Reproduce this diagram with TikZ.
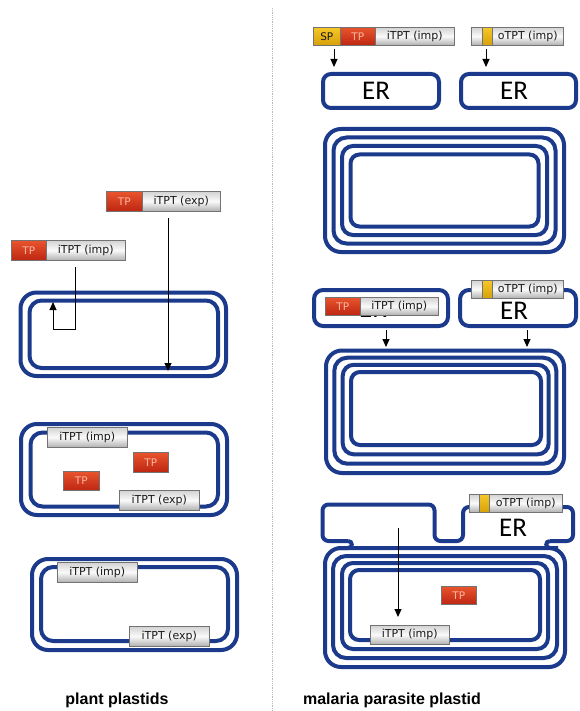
\documentclass[tikz,border=0pt]{standalone}
\usepackage{fontspec}
\setmainfont{Liberation Sans}
\newfontfamily\lblfont{DejaVu Sans}
\newfontfamily\erfont{Carlito}
\usetikzlibrary{arrows.meta}
\definecolor{memb}{RGB}{28,58,140}
\definecolor{redtop}{RGB}{232,85,45}
\definecolor{redbot}{RGB}{190,38,18}
\definecolor{tptext}{RGB}{250,180,160}
\definecolor{yeltop}{RGB}{245,200,40}
\definecolor{yelbot}{RGB}{215,160,10}
\begin{document}
\begin{tikzpicture}[x=1pt,y=-1pt,
  mem/.style={draw=memb,line width=4pt,rounded corners=#1},
  mem/.default=12pt,
  memline/.style={draw=memb,line width=4pt},
  gbar/.style={draw=black!55,line width=0.5pt,top color=gray!35,bottom color=gray!62,middle color=gray!4,
    inner sep=0pt,anchor=north west,minimum height=20pt,text=black!90,
    font=\lblfont\fontsize{11}{11}\selectfont},
  rbar/.style={draw=black!55,line width=0.5pt,top color=redtop,bottom color=redbot,
    inner sep=0pt,anchor=north west,minimum height=20pt,text=tptext,
    font=\lblfont\fontsize{10.5}{10.5}\selectfont},
  ybar/.style={draw=black!55,line width=0.5pt,top color=yeltop,bottom color=yelbot,
    inner sep=0pt,anchor=north west,minimum height=20pt,text=black!90,
    font=\lblfont\fontsize{10.5}{10.5}\selectfont},
  ertext/.style={font=\erfont\fontsize{27}{27}\selectfont,inner sep=0pt},
  arr/.style={draw=black,line width=1pt,-{Triangle[length=8pt,width=7pt]}},
  title/.style={font=\bfseries\fontsize{16}{16}\selectfont,inner sep=0pt}
]
\useasboundingbox[fill=white] (0,0) rectangle (580,711);

% divider
\coordinate (d1) at (272,8);
\coordinate (d2) at (272,711);
\draw[gray!55,line width=0.8pt,densely dotted] (d1) -- (d2);

%%%%%%%%%%%%%%%% LEFT PANEL %%%%%%%%%%%%%%%%
% plastid 1
\draw[mem=16pt] (20.5,292.5) rectangle (226,376);
\draw[mem=12pt] (29.5,300.5) rectangle (218,368);
\node[rbar,minimum width=36pt] (l1tp) at (106,191) {TP};
\node[gbar,minimum width=78pt] (l1g) at (142,191) {iTPT (exp)};
\node[rbar,minimum width=35pt] (l2tp) at (11,240) {TP};
\node[gbar,minimum width=79pt] (l2g) at (46,240) {iTPT (imp)};
\coordinate (a1s) at (168,218);
\coordinate (a1e) at (168,371);
\draw[arr] (a1s) -- (a1e);
\coordinate (a2s) at (75,267);
\coordinate (a2m1) at (75,329);
\coordinate (a2m2) at (53,329);
\coordinate (a2e) at (53,302);
\draw[arr] (a2s) -- (a2m1) -- (a2m2) -- (a2e);

% plastid 2
\draw[mem=16pt] (21,424) rectangle (227,515);
\draw[mem=12pt] (30.5,432.5) rectangle (218,506.5);
\node[gbar,minimum width=80pt] (p2i) at (47,427) {iTPT (imp)};
\node[rbar,minimum width=35pt] (p2tpa) at (133,452) {TP};
\node[rbar,minimum width=36pt,minimum height=19pt] (p2tpb) at (63,471) {TP};
\node[gbar,minimum width=80pt] (p2e) at (119,490) {iTPT (exp)};

% plastid 3
\draw[mem=16pt] (32,559) rectangle (237,650);
\draw[mem=12pt] (41,567) rectangle (228,641);
\node[gbar,minimum width=80pt] (p3i) at (57,562) {iTPT (imp)};
\node[gbar,minimum width=80pt] (p3e) at (129,626) {iTPT (exp)};

\node[title] (t1) at (117,700) {plant plastids};

%%%%%%%%%%%%%%%% RIGHT PANEL %%%%%%%%%%%%%%%%
% row 1
\node[ybar,minimum width=27pt,minimum height=18pt] (r1sp) at (313,27) {SP};
\node[rbar,minimum width=35pt,minimum height=18pt] (r1tp) at (340,27) {TP};
\node[gbar,minimum width=79pt,minimum height=18pt] (r1g) at (375,27) {iTPT (imp)};
\node[gbar,minimum width=11pt,minimum height=18pt] (r1oa) at (471,27) {};
\node[ybar,minimum width=10pt,minimum height=18pt] (r1oy) at (482,27) {};
\node[gbar,minimum width=71pt,minimum height=18pt] (r1ob) at (492,27) {oTPT (imp)};
\coordinate (b1s) at (334,49);
\coordinate (b1e) at (334,67);
\draw[arr] (b1s) -- (b1e);
\coordinate (b2s) at (486,49);
\coordinate (b2e) at (486,67);
\draw[arr] (b2s) -- (b2e);
\draw[mem=8pt] (323,74) rectangle (439,108);
\node[ertext] (er1) at (376,91) {ER};
\draw[mem=8pt] (461,74) rectangle (576,108);
\node[ertext] (er2) at (514,91) {ER};

% quad plastid 1
\draw[mem=16pt] (325,129) rectangle (564,252);
\draw[mem=13pt] (333.5,137.5) rectangle (555.5,243.5);
\draw[mem=11pt] (342,146) rectangle (547,235);
\draw[mem=9pt] (350.5,154.5) rectangle (538.5,226.5);

% row 2
\draw[mem=9pt] (314,290) rectangle (448,326);
\node[ertext] (er3) at (373,309) {ER};
\node[rbar,minimum width=35pt,minimum height=18pt] (r2tp) at (325,297) {TP};
\node[gbar,minimum width=78pt,minimum height=18pt] (r2g) at (360,297) {iTPT (imp)};
\draw[mem=9pt] (460,290) rectangle (576,326);
\node[ertext] (er4) at (514,311) {ER};
\node[gbar,minimum width=11pt,minimum height=18pt] (r2oa) at (471,280) {};
\node[ybar,minimum width=10pt,minimum height=18pt] (r2oy) at (482,280) {};
\node[gbar,minimum width=71pt,minimum height=18pt] (r2ob) at (492,280) {oTPT (imp)};
\coordinate (c1s) at (386,330);
\coordinate (c1e) at (386,347);
\draw[arr] (c1s) -- (c1e);
\coordinate (c2s) at (527,330);
\coordinate (c2e) at (527,347);
\draw[arr] (c2s) -- (c2e);

% quad plastid 2
\draw[mem=16pt] (326,350.5) rectangle (564,473);
\draw[mem=13pt] (334.3,357.7) rectangle (556.3,463.7);
\draw[mem=11pt] (342.7,364.8) rectangle (548.7,454.3);
\draw[mem=9pt] (351,372) rectangle (541,445);

% fused plastid
\draw[mem=16pt] (325,548) rectangle (565,667);
\draw[mem=13pt] (333,556) rectangle (557,658);
\draw[mem=11pt] (342,563) rectangle (548,649);
\draw[mem=9pt] (350,570) rectangle (540,640);
\draw[memline,rounded corners=6pt] (348,541) -- (322.5,541) -- (322.5,504.5) -- (434.5,504.5)
  -- (434.5,541) -- (463,541) -- (463,507) -- (573,507) -- (573,541) -- (550,541);
\draw[memline] (338,548) -- (348,548) .. controls (353,548) and (353,541) .. (348,541);
\draw[memline] (550,541) .. controls (545,541) and (545,548) .. (550,548) -- (558,548);
\node[ertext] (er5) at (513,528) {ER};
\node[gbar,minimum width=10pt,minimum height=18pt] (r3oa) at (469,494) {};
\node[ybar,minimum width=10pt,minimum height=18pt] (r3oy) at (479,494) {};
\node[gbar,minimum width=73pt,minimum height=18pt] (r3ob) at (489,494) {oTPT (imp)};
\node[rbar,minimum width=35pt,minimum height=18pt] (r3tp) at (441,586) {TP};
\node[gbar,minimum width=79pt,minimum height=19pt] (r3i) at (370,625) {iTPT (imp)};
\coordinate (e1s) at (398,528);
\coordinate (e1e) at (398,617);
\draw[arr] (e1s) -- (e1e);

\node[title] (t2) at (392,700) {malaria parasite plastid};
\end{tikzpicture}
\end{document}
